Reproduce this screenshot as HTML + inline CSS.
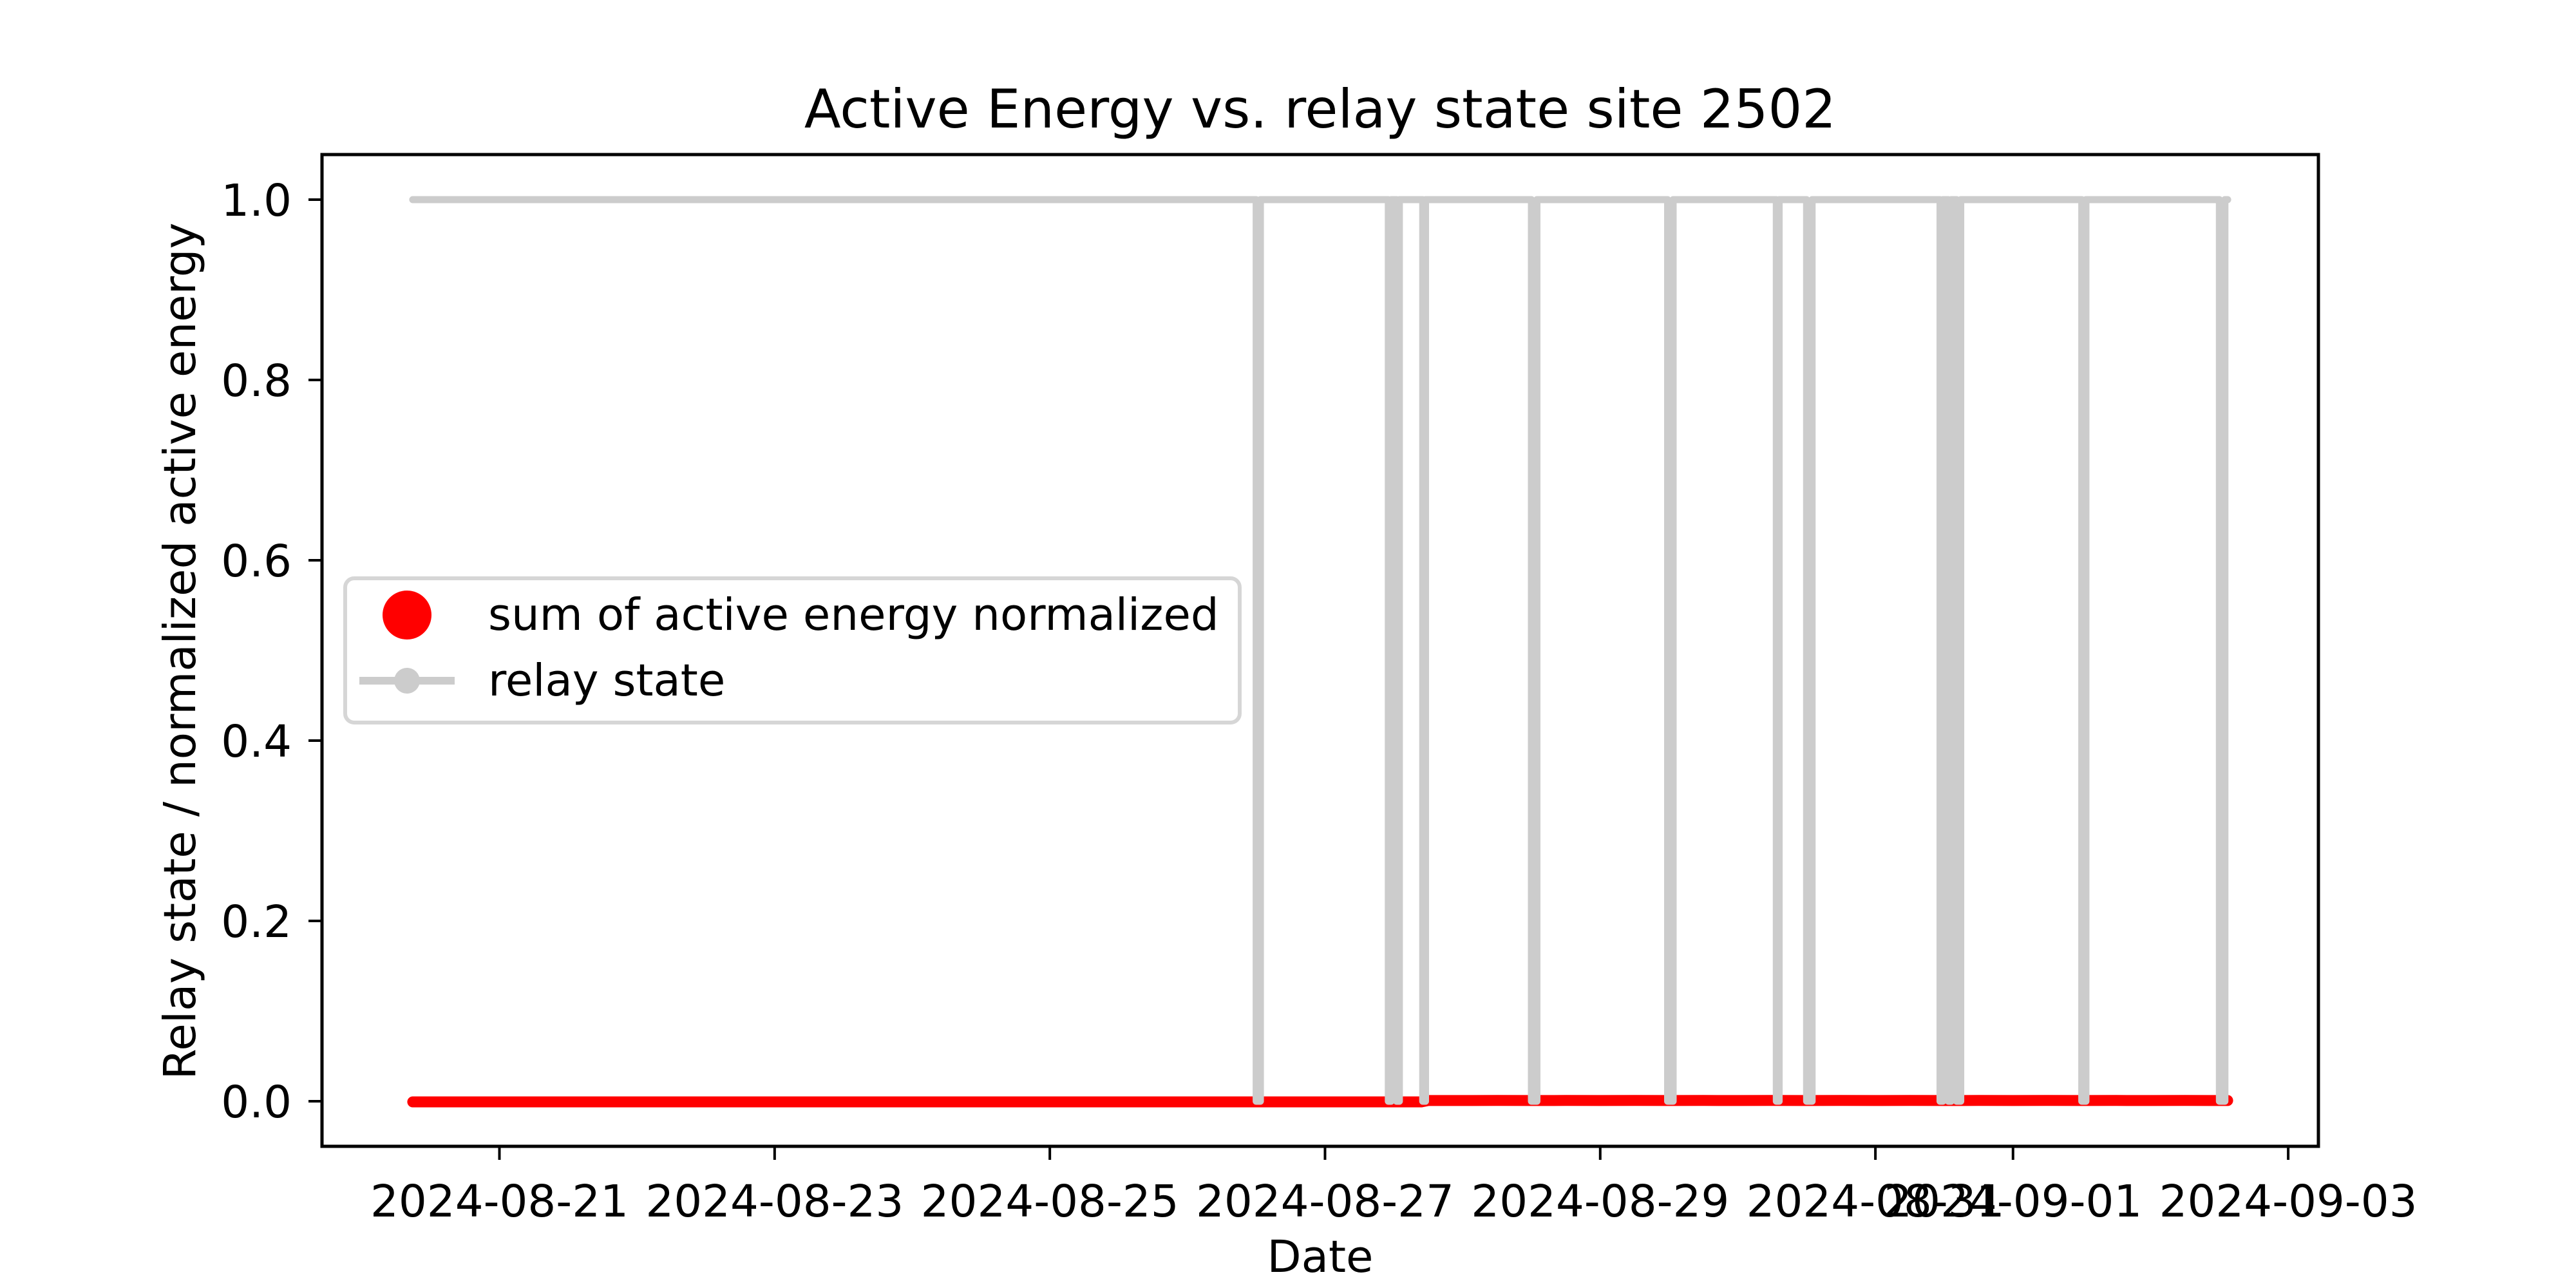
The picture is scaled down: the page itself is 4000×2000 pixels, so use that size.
<!DOCTYPE html>
<html><head><meta charset="utf-8">
<style>
html,body{margin:0;padding:0;background:#fff;}
svg{display:block;font-family:"DejaVu Sans","Liberation Sans",sans-serif;}
</style></head>
<body>
<svg id="chart" width="4000" height="2000" viewBox="0 0 4000 2000" xmlns="http://www.w3.org/2000/svg">
<rect x="0" y="0" width="4000" height="2000" fill="#fff"/>
<text x="2050" y="198" font-size="83" text-anchor="middle" fill="#000">Active Energy vs. relay state site 2502</text>
<g id="plot"></g>
<g id="axes"></g>
<text x="2050" y="1975" font-size="69" text-anchor="middle" fill="#000">Date</text>
<text transform="translate(303,1011) rotate(-90)" font-size="69" text-anchor="middle" fill="#000">Relay state / normalized active energy</text>
<g>
  <rect x="536" y="898" width="1389" height="224" rx="14" fill="#fff" fill-opacity="0.8" stroke="#d6d6d6" stroke-width="6"/>
  <circle cx="632" cy="955" r="38" fill="#ff0000"/>
  <text x="758" y="978" font-size="69" fill="#000">sum of active energy normalized</text>
  <line x1="558" y1="1057" x2="706" y2="1057" stroke="#cccccc" stroke-width="12"/>
  <circle cx="632" cy="1057" r="20" fill="#cccccc"/>
  <text x="758" y="1080" font-size="69" fill="#000">relay state</text>
</g>
</svg>
<script>
// ---- data (days since 2024-08-21 00:00) ----
const xTickDays = [0, 2, 4, 6, 8, 10, 11, 13];
const xTickLabels = ["2024-08-21","2024-08-23","2024-08-25","2024-08-27","2024-08-29","2024-08-31","2024-09-01","2024-09-03"];
const yTickValues = [0.0, 0.2, 0.4, 0.6, 0.8, 1.0];
const yTickLabels = ["0.0","0.2","0.4","0.6","0.8","1.0"];
const seriesStart = -0.63;
const seriesEnd = 12.56;
const relayOffStart = [5.50, 6.46, 6.52, 6.71, 7.50, 8.49, 9.28, 9.50, 10.47, 10.53, 10.59, 11.50, 12.50];
const relayOffEnd   = [5.53, 6.48, 6.54, 6.73, 7.54, 8.53, 9.30, 9.54, 10.49, 10.55, 10.62, 11.53, 12.54];
const energyDays = [-0.63,0,1,2,3,4,5,6,6.7,6.75,7,7.25,7.5,7.75,8,8.25,8.5,8.75,9,9.25,9.5,9.75,10,10.25,10.5,10.75,11,11.25,11.5,11.75,12,12.25,12.56];
const energyVals = [0,0,0,0,0,0,0,0,0,0.0015,0.0015,0.0016,0.0015,0.0016,0.0015,0.0016,0.0015,0.0016,0.0015,0.0016,0.0015,0.0016,0.0015,0.0016,0.0015,0.0016,0.0015,0.0016,0.0015,0.0016,0.0015,0.0016,0.0015];

// ---- axis functions ----
const AX = {l:500, r:3600, t:240, b:1780};
const xMin = seriesStart - 0.05*(seriesEnd-seriesStart), xMax = seriesEnd + 0.05*(seriesEnd-seriesStart);
const yMin = -0.05, yMax = 1.05;
function xs(d){ return AX.l + (d - xMin)/(xMax - xMin)*(AX.r - AX.l); }
function ys(v){ return AX.b - (v - yMin)/(yMax - yMin)*(AX.b - AX.t); }

const NS = "http://www.w3.org/2000/svg";
const plot = document.getElementById('plot');
const axes = document.getElementById('axes');
function mk(tag, attrs, parent){
  const e = document.createElementNS(NS, tag);
  for (const k in attrs) e.setAttribute(k, attrs[k]);
  parent.appendChild(e);
  return e;
}

// energy series
let ep = "";
for (let i=0;i<energyDays.length;i++){ ep += (i?"L":"M") + xs(energyDays[i]).toFixed(1) + "," + (ys(energyVals[i])+1).toFixed(1); }
const energyPath = mk('path', {d:ep, fill:"none", stroke:"#ff0000", "stroke-width":17, "stroke-linecap":"round", "stroke-linejoin":"round"}, plot);



// relay step series
let rp = "M" + xs(seriesStart).toFixed(1) + "," + ys(1).toFixed(1);
for (let i=0;i<relayOffStart.length;i++){
  rp += "L" + xs(relayOffStart[i]).toFixed(1) + "," + ys(1).toFixed(1);
  rp += "L" + xs(relayOffStart[i]).toFixed(1) + "," + ys(0).toFixed(1);
  rp += "L" + xs(relayOffEnd[i]).toFixed(1) + "," + ys(0).toFixed(1);
  rp += "L" + xs(relayOffEnd[i]).toFixed(1) + "," + ys(1).toFixed(1);
}
rp += "L" + xs(seriesEnd).toFixed(1) + "," + ys(1).toFixed(1);
const relayPath = mk('path', {d:rp, fill:"none", stroke:"#cccccc", "stroke-width":11, "stroke-linecap":"round", "stroke-linejoin":"round"}, plot);



// frame
const frame = mk('rect', {x:AX.l, y:AX.t, width:AX.r-AX.l, height:AX.b-AX.t, fill:"none", stroke:"#000", "stroke-width":5}, axes);



// x ticks
for (let i=0;i<xTickDays.length;i++){
  const x = xs(xTickDays[i]);
  const t = mk('line', {x1:x, y1:AX.b, x2:x, y2:AX.b+21, stroke:"#000", "stroke-width":4}, axes);
  
  
  const lb = mk('text', {x:x, y:1889, "font-size":69, "text-anchor":"middle", fill:"#000"}, axes);
  lb.textContent = xTickLabels[i];
  
  
}
// y ticks
for (let i=0;i<yTickValues.length;i++){
  const y = ys(yTickValues[i]);
  const t = mk('line', {x1:AX.l-21, y1:y, x2:AX.l, y2:y, stroke:"#000", "stroke-width":4}, axes);
  
  
  const lb = mk('text', {x:453, y:y+25, "font-size":69, "text-anchor":"end", fill:"#000"}, axes);
  lb.textContent = yTickLabels[i];
  
  
}
</script>
</body></html>
